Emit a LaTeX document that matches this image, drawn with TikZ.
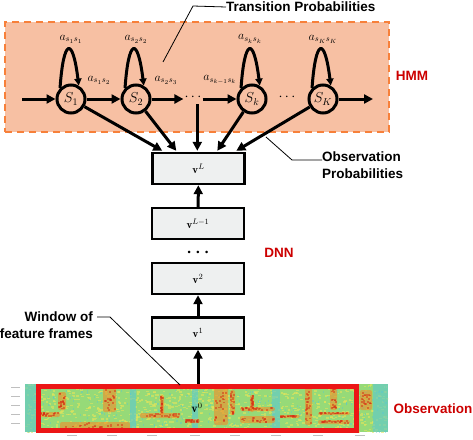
\documentclass[tikz,border=0pt]{standalone}
\usepackage{fontspec}
\setsansfont{Liberation Sans}
\usetikzlibrary{arrows.meta,calc}
\definecolor{hmmfill}{RGB}{247,192,163}
\definecolor{hmmdash}{RGB}{247,128,58}
\definecolor{lblred}{RGB}{204,0,0}
\definecolor{rectred}{RGB}{236,22,22}
\definecolor{spgreen}{RGB}{150,218,120}
\definecolor{spcyan}{RGB}{90,200,210}
\definecolor{spyellow}{RGB}{228,228,90}
\definecolor{sporange}{RGB}{242,140,40}
\definecolor{spred}{RGB}{215,45,20}
\definecolor{boxfill}{RGB}{238,240,240}
\begin{document}
\begin{tikzpicture}[x=1pt,y=1pt,
  tip/.style={-{Triangle[length=9pt,width=9pt]}},
  heavy/.style={line width=3pt},
  state/.style={circle,draw,line width=3pt,minimum size=28pt,inner sep=0pt,font=\fontsize{14}{14}\selectfont},
  layer/.style={draw,line width=2.4pt,fill=boxfill,minimum width=92pt,minimum height=31pt,inner sep=0pt,font=\fontsize{11}{11}\selectfont},
  lead/.style={line width=0.8pt},
  bigtxt/.style={font=\sffamily\bfseries\fontsize{13.5}{16.5}\selectfont},
  redtxt/.style={font=\sffamily\bfseries\fontsize{13.5}{16}\selectfont,text=lblred},
  alab/.style={font=\fontsize{12}{12}\selectfont,inner sep=0pt}
]
\useasboundingbox (0,0) rectangle (473,-439);
% HMM box
\node[draw=hmmdash,fill=hmmfill,line width=2.5pt,dash pattern=on 7pt off 5pt,minimum width=384pt,minimum height=110pt,inner sep=0pt] (hmm) at (197,-77) {};
\node[redtxt] (hmmlbl) at (412,-76) {HMM};
% states
\node[state] (s1) at (71,-99) {$S_1$};
\node[state] (s2) at (136,-99) {$S_2$};
\node[state] (sk) at (252,-99) {$S_k$};
\node[state] (sK) at (323,-99) {$S_K$};
\node[inner sep=1pt,font=\fontsize{14}{14}\selectfont] (d1) at (193,-97) {$\cdots$};
\node[inner sep=1pt,font=\fontsize{14}{14}\selectfont] (d2) at (287,-97) {$\cdots$};
\coordinate (in) at (22,-99);
\coordinate (out) at (373,-99);
\draw[heavy,tip] (in) -- (s1);
\draw[heavy,tip] (s1) -- (s2);
\draw[heavy,tip] (s2) -- (d1.west|-s2);
\draw[heavy,tip] (d1.east|-sk) -- (sk);
\draw[heavy,tip] (sK) -- (out);
% self loops
\foreach \s in {s1,s2,sk,sK}{
  \draw[heavy,-{Triangle[length=7pt,width=7pt]}] (\s.135) .. controls +(86:50) and +(97:50) .. (\s.60);
}
% loop labels
\node[alab] (l1) at (71,-39) {$a_{s_1s_1}$};
\node[alab] (l2) at (136,-39) {$a_{s_2s_2}$};
\node[alab] (l3) at (250,-39) {$a_{s_ks_k}$};
\node[alab] (l4) at (323,-39) {$a_{s_Ks_K}$};
\node[alab] (t1) at (99,-80) {$a_{s_1s_2}$};
\node[alab] (t2) at (166,-80) {$a_{s_2s_3}$};
\node[alab] (t3) at (220,-80) {$a_{s_{k-1}s_k}$};
% DNN layers
\node[layer] (vL) at (198.5,-168.5) {$\mathbf{v}^{L}$};
\node[layer] (vL1) at (198,-223.5) {$\mathbf{v}^{L-1}$};
\node[font=\fontsize{9}{9}\selectfont,inner sep=1pt] (vd) at (198,-253) {\textbullet\,\textbullet\,\textbullet};
\node[layer] (v2) at (198,-278.5) {$\mathbf{v}^{2}$};
\node[layer] (v1) at (198,-333) {$\mathbf{v}^{1}$};
\node[redtxt] (dnn) at (279,-253) {DNN};
% arrows to vL
\coordinate (a1) at ($(vL.north west)+(11,1)$);
\coordinate (a2) at ($(vL.north west)+(25,1)$);
\coordinate (a3) at ($(vL.north west)+(46,1)$);
\coordinate (a4) at ($(vL.north west)+(66,1)$);
\coordinate (a5) at ($(vL.north west)+(85,1)$);
\draw[heavy,tip] (s1) -- (a1);
\draw[heavy,tip] (s2) -- (a2);
\draw[heavy,tip] (d1.south -| a3) ++(0,-3) -- (a3);
\draw[heavy,tip] (sk) -- (a4);
\draw[heavy,tip] (sK) -- (a5);
\draw[heavy,tip] (vL1) -- (vL);
\draw[heavy,tip] (v1) -- (v2);
% spectrogram
\begin{scope}
\clip (25,-384) rectangle (388,-432);
\fill[spgreen] (25,-384) rectangle (388,-432);
\pgfmathsetseed{11}
\foreach \i in {1,...,900}{
  \pgfmathsetmacro\xx{25+363*rnd}
  \pgfmathsetmacro\yy{-384-48*rnd}
  \fill[spyellow,opacity=0.6] (\xx,\yy) rectangle ++(2.5,-1.5);
}
% cyan strips
\foreach \a/\b in {25/36,130/136,192/198,272/280,373/388}{
  \fill[spcyan,opacity=0.6] (\a,-384) rectangle (\b,-432);
}
\foreach \i in {1,...,250}{
  \pgfmathsetmacro\xx{25+363*rnd}
  \pgfmathsetmacro\yy{-384-48*rnd}
  \fill[spcyan,opacity=0.45] (\xx,\yy) rectangle ++(1.2,-2);
}
% vertical and horizontal orange/red blobs
\foreach \a/\b/\t/\u in {58/66/392/410,103/116/386/412,214/228/388/425,230/235/390/415,305/312/388/425,330/337/385/410,360/372/390/410,160/164/395/415,250/254/395/412,40/60/412/417,60/130/422/430,140/180/413/418,240/275/407/411,240/275/416/423,318/350/412/415,318/350/420/424,185/200/419/423,280/300/415/418}{
  \fill[sporange,opacity=0.6,rounded corners=2pt] (\a,-\t) rectangle (\b,-\u);
  \foreach \j in {1,...,22}{
    \pgfmathsetmacro\xx{\a+(\b-\a-2)*rnd}
    \pgfmathsetmacro\yy{-\t-(\u-\t-2)*rnd}
    \fill[spred,opacity=0.5] (\xx,\yy) rectangle ++(2,-1.8);
  }
}
\end{scope}
% tiny axis marks
\foreach \y in {387,396,405,414,423}{ \draw[gray!50,line width=0.8pt] (11,-\y) -- (20,-\y); }
\foreach \x in {72,112,152,195,235,276,318,360}{ \draw[gray!50,line width=0.8pt] (\x-5,-435) -- (\x+5,-435); }
\node[draw=rectred,line width=5pt,minimum width=318pt,minimum height=44pt,inner sep=0pt] (win) at (197.5,-408) {};
\node[font=\fontsize{12}{12}\selectfont,inner sep=0pt] (v0) at (197,-408) {$\mathbf{v}^{0}$};
\draw[heavy,tip] (win.north -| v1) -- (v1);
\node[redtxt,anchor=west] (obs) at (390,-409) {Observation};
% leaders and labels
\node[bigtxt,anchor=west,inner sep=0pt] (tp) at (226,-7) {Transition Probabilities};
\coordinate (tp1) at (163,-62);
\coordinate (tp2) at (193,-6);
\draw[lead] (tp1) -- (tp2) -- (tp.west);
\node[bigtxt,anchor=north west,align=left,inner sep=0pt] (op) at (322,-152) {Observation\\Probabilities};
\coordinate (op1) at (266,-137);
\coordinate (op2) at (292,-160);
\draw[lead] (op1) -- (op2) -- (op2 -| op.west);
\node[bigtxt,anchor=east,align=right,inner sep=0pt] (wf) at (93,-325) {Window of\\feature frames};
\coordinate (wf1) at (97,-317);
\coordinate (wf2) at (110,-317);
\coordinate (wf3) at (180,-385);
\draw[lead] (wf1) -- (wf2) -- (wf3);
\end{tikzpicture}
\end{document}
